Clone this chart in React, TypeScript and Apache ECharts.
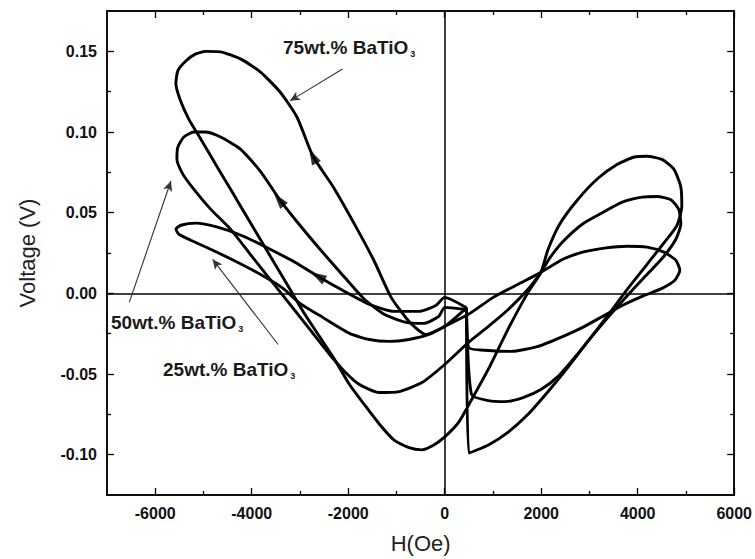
import React, { useEffect, useRef } from "react";
import * as echarts from "echarts";

// ---- data: H (Oe), V (V) ----
const loop75: number[][] = [
  [452, -0.009], [500, -0.099], [905, -0.094], [1316, -0.086], [1727, -0.075], [2139, -0.061],
  [2549, -0.046], [2961, -0.030], [3372, -0.014], [3783, 0.0025], [4194, 0.018], [4564, 0.032],
  [4811, 0.042], [4914, 0.054], [4893, 0.066], [4749, 0.077], [4503, 0.083], [4194, 0.085],
  [3927, 0.0845], [3578, 0.080], [3166, 0.071], [2755, 0.058], [2385, 0.043], [2139, 0.027],
  [1994, 0.013], [1727, 0.0006], [1316, -0.022], [905, -0.047], [555, -0.066], [288, -0.080],
  [0, -0.089], [-226, -0.094], [-473, -0.097], [-740, -0.0957], [-1049, -0.091], [-1357, -0.081],
  [-1665, -0.069], [-1974, -0.0565], [-2282, -0.041], [-2591, -0.027], [-2899, -0.013],
  [-3207, 0.0025], [-3516, 0.018], [-3824, 0.0335], [-4132, 0.049], [-4441, 0.0646],
  [-4749, 0.080], [-5058, 0.0957], [-5305, 0.108], [-5490, 0.1205], [-5572, 0.130],
  [-5531, 0.138], [-5366, 0.144], [-5161, 0.1484], [-4955, 0.150], [-4647, 0.1497],
  [-4235, 0.1453], [-3824, 0.1373], [-3413, 0.1248], [-3063, 0.1093], [-2734, 0.0851],
  [-2323, 0.0665], [-1871, 0.0429], [-1460, 0.0199], [-1110, -0.0025], [-740, -0.0174],
  [-391, -0.0255], [0, -0.0205], [452, -0.009],
];

const loop50: number[][] = [
  [452, -0.010], [555, -0.0627], [905, -0.0665], [1254, -0.0671], [1624, -0.0646], [1994, -0.0596],
  [2344, -0.0516], [2714, -0.039], [3084, -0.0255], [3475, -0.0118], [3886, 0.0019], [4235, 0.013],
  [4544, 0.023], [4790, 0.0335], [4893, 0.043], [4852, 0.052], [4688, 0.058], [4400, 0.060],
  [4091, 0.0596], [3680, 0.0565], [3269, 0.050], [2858, 0.043], [2447, 0.032], [2179, 0.022],
  [1994, 0.013], [1727, 0.0025], [1316, -0.010], [905, -0.0205], [493, -0.0304], [0, -0.0441],
  [-473, -0.0553], [-946, -0.0609], [-1357, -0.0615], [-1768, -0.0565], [-2077, -0.0484],
  [-2385, -0.0379], [-2796, -0.0224], [-3207, -0.0068], [-3619, 0.0087], [-4030, 0.0242],
  [-4441, 0.0398], [-4852, 0.0522], [-5202, 0.0646], [-5428, 0.0739], [-5551, 0.0832],
  [-5531, 0.0907], [-5407, 0.0969], [-5202, 0.100], [-4955, 0.100], [-4647, 0.0969],
  [-4235, 0.0894], [-3824, 0.0758], [-3413, 0.0578], [-3002, 0.0422], [-2549, 0.0261],
  [-2077, 0.010], [-1665, -0.0037], [-1254, -0.013], [-802, -0.018], [-432, -0.0186],
  [-123, -0.0143], [0, -0.0087], [452, -0.010],
];

const loop25: number[][] = [
  [452, -0.009], [493, -0.0335], [905, -0.0354], [1378, -0.036], [1933, -0.0329], [2406, -0.0273],
  [2858, -0.0211], [3269, -0.0143], [3680, -0.0075], [4091, -0.0019], [4503, 0.0031],
  [4770, 0.0081], [4873, 0.0143], [4790, 0.0205], [4544, 0.0255], [4194, 0.0286], [3783, 0.0292],
  [3310, 0.028], [2858, 0.0255], [2447, 0.0211], [1994, 0.013], [1521, 0.0056], [1007, -0.0025],
  [493, -0.013], [0, -0.0205], [-329, -0.0255], [-740, -0.0286], [-1151, -0.0298],
  [-1563, -0.0286], [-1974, -0.0248], [-2529, -0.0149], [-3002, -0.0062], [-3351, 0.0031],
  [-3824, 0.0118], [-4338, 0.0199], [-4852, 0.0273], [-5263, 0.0329], [-5510, 0.0366],
  [-5572, 0.0398], [-5469, 0.0422], [-5161, 0.0435], [-4708, 0.041], [-4173, 0.0354],
  [-3619, 0.0273], [-3105, 0.0193], [-2632, 0.0106], [-2118, 0.0019], [-1563, -0.0068],
  [-1049, -0.0112], [-535, -0.0112], [-185, -0.0075], [0, -0.0025], [452, -0.009],
];

// direction arrows on the curves: [H, V, rotation deg]
const curveArrows: number[][] = [
  [-2734, 0.0851, 27],
  [-3434, 0.058, 39],
  [-2632, 0.0106, 61],
];

// annotation pointers: [fromH, fromV, toH, toV]
const pointers: number[][] = [
  [-2118, 0.139, -3207, 0.1193],
  [-6538, -0.0056, -5675, 0.0696],
  [-3454, -0.0317, -4811, 0.0211],
];

const labels = ["75wt.% BaTiO", "50wt.% BaTiO", "25wt.% BaTiO"];
const labelPos: number[][] = [[283, 48], [111, 323], [163, 370]];

const xMajor = [-6000, -4000, -2000, 0, 2000, 4000, 6000];
const xMinor = [-5000, -3000, -1000, 1000, 3000, 5000];
const yMajor = [-0.1, -0.05, 0, 0.05, 0.1, 0.15];
const yMinor = [-0.075, -0.025, 0.025, 0.075, 0.125];

const FONT = '"Liberation Sans", Arial, sans-serif';

function xAxis(position: string, ticks: number[], len: number, withLabels: boolean, extra: any = {}) {
  return {
    type: "value",
    position,
    min: -7000,
    max: 6000,
    axisLine: { show: true, onZero: false, lineStyle: { color: "#000", width: 1.5 } },
    axisTick: { show: true, inside: true, length: len, customValues: ticks, lineStyle: { color: "#000", width: 1.3 } },
    axisLabel: withLabels
      ? { show: true, customValues: ticks, formatter: (v: number) => String(Math.round(v)), fontFamily: FONT, fontWeight: "bold", fontSize: 16, color: "#111", margin: 10 }
      : { show: false },
    splitLine: { show: false },
    ...extra,
  };
}

function yAxis(position: string, ticks: number[], len: number, withLabels: boolean, extra: any = {}) {
  return {
    type: "value",
    position,
    min: -0.125,
    max: 0.175,
    axisLine: { show: true, onZero: false, lineStyle: { color: "#000", width: 1.5 } },
    axisTick: { show: true, inside: true, length: len, customValues: ticks, lineStyle: { color: "#000", width: 1.3 } },
    axisLabel: withLabels
      ? { show: true, customValues: ticks, formatter: (v: number) => v.toFixed(2), fontFamily: FONT, fontWeight: "bold", fontSize: 16, color: "#111", margin: 10 }
      : { show: false },
    splitLine: { show: false },
    ...extra,
  };
}

const curveStyle = { color: "#000", width: 2.9 };

export default function App() {
  const ref = useRef<HTMLDivElement>(null);
  useEffect(() => {
    if (!ref.current) return;
    const chart = echarts.init(ref.current, undefined, { renderer: "svg" });
    const loops = [loop75, loop50, loop25];
    const series: any[] = loops.map((d, i) => ({
      type: "line",
      data: d,
      showSymbol: false,
      smooth: 0.2,
      lineStyle: curveStyle,
      silent: true,
      z: 3,
      ...(i === 0
        ? {
            markLine: {
              silent: true,
              symbol: ["none", "none"],
              label: { show: false },
              lineStyle: { color: "#000", width: 1.5, type: "solid" },
              data: [{ yAxis: 0 }, { xAxis: 0 }],
            },
          }
        : {}),
    }));
    series.push({
      type: "scatter",
      symbol: "triangle",
      symbolSize: [10, 16],
      itemStyle: { color: "#000" },
      z: 4,
      data: curveArrows.map((a) => ({ value: [a[0], a[1]], symbolRotate: a[2] })),
      markLine: {
        silent: true,
        symbol: ["none", "arrow"],
        symbolSize: [7, 10],
        label: { show: false },
        lineStyle: { color: "#333", width: 1.1, type: "solid" },
        data: pointers.map((p) => [{ coord: [p[0], p[1]] }, { coord: [p[2], p[3]] }]),
      },
    });

    chart.setOption({
      animation: false,
      backgroundColor: "#fff",
      grid: { left: 107, right: 17, top: 11, bottom: 64, containLabel: false },
      xAxis: [
        xAxis("bottom", xMajor, 7, true, {
          name: "H(Oe)",
          nameLocation: "middle",
          nameGap: 37,
          nameTextStyle: { fontFamily: FONT, fontSize: 22, color: "#222" },
        }),
        xAxis("bottom", xMinor, 4, false),
        xAxis("top", xMajor, 7, false),
        xAxis("top", xMinor, 4, false),
      ],
      yAxis: [
        yAxis("left", yMajor, 7, true, {
          name: "Voltage (V)",
          nameLocation: "middle",
          nameGap: 69,
          nameTextStyle: { fontFamily: FONT, fontSize: 22, color: "#222" },
        }),
        yAxis("left", yMinor, 4, false),
        yAxis("right", yMajor, 7, false),
        yAxis("right", yMinor, 4, false),
      ],
      series,
      graphic: labels.map((t, i) => ({
        type: "text",
        x: labelPos[i][0],
        y: labelPos[i][1],
        silent: true,
        style: {
          text: `{a|${t}}{b|3}`,
          verticalAlign: "middle",
          rich: {
            a: { fontFamily: FONT, fontSize: 19, fontWeight: "bold", fill: "#1a1a1a", lineHeight: 21, verticalAlign: "top" },
            b: { fontFamily: FONT, fontSize: 9, fontWeight: "bold", fill: "#1a1a1a", lineHeight: 9, verticalAlign: "bottom", padding: [0, 0, 0, 2] },
          },
        },
      })),
    });
    return () => chart.dispose();
  }, []);
  return <div ref={ref} style={{ position: "absolute", left: 0, top: 0, width: 755, height: 559 }} />;
}
